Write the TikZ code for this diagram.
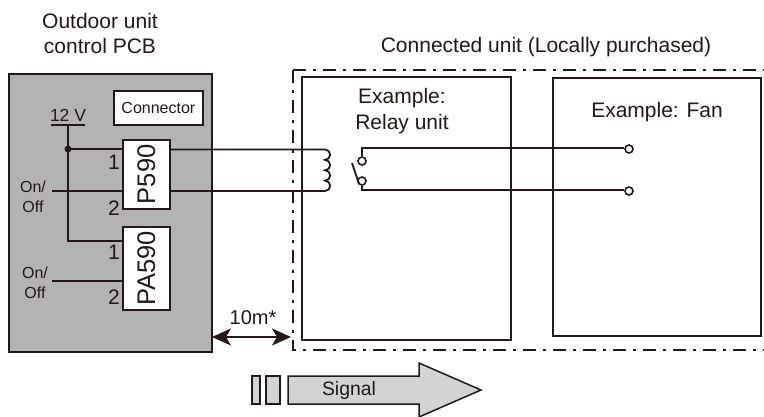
\documentclass[tikz,border=0pt]{standalone}
\usepackage{fontspec}
\setmainfont{Liberation Sans}
\usetikzlibrary{positioning}
\usetikzlibrary{arrows.meta}
\definecolor{linec}{HTML}{231815}
\definecolor{pcbc}{HTML}{B3B3B3}
\definecolor{signalc}{HTML}{D1D3D4}
\tikzset{
  wire/.style={draw=linec,line width=1.8pt},
  box/.style={draw=linec,line width=1.8pt,minimum width=#1,inner sep=0pt,anchor=north west},
  lbl/.style={text=linec,inner sep=0pt,align=center},
  pin/.style={lbl,font=\fontsize{21}{24}\selectfont},
  onoff/.style={lbl,font=\fontsize{16}{20}\selectfont},
  part/.style={lbl,rotate=90,font=\fontsize{25.5}{28}\selectfont},
  contact/.style={circle,draw=linec,fill=white,line width=1.6pt,minimum size=8pt,inner sep=0pt},
  chain/.style={draw=linec,line width=1.7pt,dash pattern=on 13pt off 7pt on 3pt off 7pt},
  sigbox/.style={draw=linec,fill=signalc,line width=1.5pt}
}
\begin{document}
\begin{tikzpicture}[x=1pt,y=-1pt,font=\fontsize{21}{26}\selectfont]
\useasboundingbox (0,0) rectangle (764,416);
% control board
\node[box=203pt,minimum height=278pt,fill=pcbc] (pcb) at (8,73) {};
\node[box=89pt,minimum height=34pt,fill=white] (conn) at (113,90) {};
\node[lbl,font=\fontsize{16}{18}\selectfont] at (conn.center) {Connector};
\node[box=47pt,minimum height=69pt,fill=white] (pfive) at (122,139) {};
\node[box=47pt,minimum height=83pt,fill=white] (pafive) at (122,226) {};
\node[part] at (pfive.center) {P590};
\node[part] at (pafive.center) {PA590};
\node[lbl,font=\fontsize{21}{25}\selectfont] at (100,33) {Outdoor unit\\control PCB};
\node[lbl,font=\fontsize{17.5}{20}\selectfont] (twelve) at (68,115) {12 V};

% connected units
\coordinate (chaintl) at (293,70);
\coordinate (chainbl) at (293,350);
\draw[chain] (chaintl) -- (764,70);
\draw[chain] (chaintl) -- (chainbl) -- (764,350);
\node[box=209pt,minimum height=263pt] (relay) at (301,76) {};
\node[box=208pt,minimum height=258pt] (fan) at (552,77) {};
\node[lbl] at (546,47) {Connected unit (Locally purchased)};
\node[lbl] at (402,111) {Example:\\Relay unit};
\node[lbl] at (657,112) {Example: Fan};

% 12 V rail
\coordinate (railtop) at (68,125);
\coordinate (railtap) at (68,149);
\coordinate (railend) at (68,241);
\draw[wire] (51,125) -- (85,125);
\draw[wire] (railtop) -- (railend) -- (railend -| pafive.west);
\draw[wire] (railtap) -- (railtap -| pfive.west);
\fill[linec] (railtap) circle (3.5pt);
\node[pin] at (114,162) {1};
\node[pin] at (114,208) {2};
\node[pin] at (114,252) {1};
\node[pin] at (114,297) {2};

% on/off inputs
\coordinate (onone) at (52,191);
\coordinate (ontwo) at (52,281);
\draw[wire] (onone) -- (onone -| pfive.west);
\draw[wire] (ontwo) -- (ontwo -| pafive.west);
\node[onoff] at (33,197) {On/\\Off};
\node[onoff] at (35,283) {On/\\Off};

% coil and contacts
\coordinate (coiltop) at (325,149.5);
\coordinate (coilbot) at (325,191);
\draw[wire] (coiltop -| pfive.east) -- (coiltop)
  \foreach \i in {1,...,4}{ arc[start angle=90,end angle=-90,x radius=5.2pt,y radius=5.19pt] }
  -- (coilbot -| pfive.east);
\node[contact] (ca) at (362,161) {};
\node[contact] (cb) at (362,181) {};
\node[contact] (fa) at (629,149) {};
\node[contact] (fb) at (629,191) {};
\coordinate (cornera) at (362,148);
\coordinate (cornerb) at (362,190);
\draw[wire] (ca) -- (cornera) -- (cornera -| fa.west);
\draw[wire] (cb) -- (cornerb) -- (cornerb -| fb.west);
\coordinate (bladea) at (352,163);
\coordinate (bladeb) at (359,184);
\draw[wire] (bladea) -- (bladeb);

% distance
\node[lbl,font=\fontsize{20}{22}\selectfont] at (253,318) {10m*};
\coordinate (dista) at (212,337);
\coordinate (distb) at (291,337);
\draw[wire,{Stealth[length=19pt,width=17pt,inset=5pt]}-{Stealth[length=19pt,width=17pt,inset=5pt]}] (dista) -- (distb);

% signal arrow
\filldraw[sigbox] (252,376) rectangle (260,404);
\filldraw[sigbox] (266,376) rectangle (280,404);
\filldraw[sigbox] (288,376) -- (419,376) -- (419,363) -- (481,390) -- (419,417) -- (419,404) -- (288,404) -- cycle;
\node[lbl,font=\fontsize{19.4}{22}\selectfont] at (349,390) {Signal};
\end{tikzpicture}
\end{document}
